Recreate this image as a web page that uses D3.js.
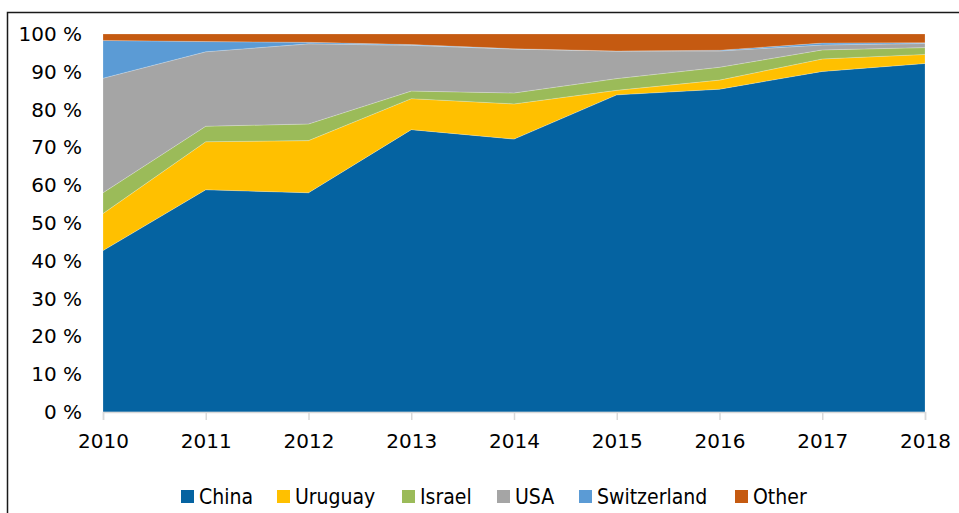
<!DOCTYPE html>
<html>
<head>
<meta charset="utf-8">
<script src="https://cdn.jsdelivr.net/npm/d3@7"></script>
<style>
  body { margin: 0; background: #fff; }
  svg { display: block; font-family: "DejaVu Sans", sans-serif; }
</style>
</head>
<body>
<div id="chart"></div>
<script>
const years = [2010, 2011, 2012, 2013, 2014, 2015, 2016, 2017, 2018];
const series = ["China", "Uruguay", "Israel", "USA", "Switzerland", "Other"];
const colors = ["#0563a1", "#ffc000", "#9bbb59", "#a5a5a5", "#5b9bd5", "#c55a11"];

// shares in %
const china = [42.7, 58.8, 58.0, 74.7, 72.2, 83.9, 85.4, 90.1, 92.2];
const uruguay = [9.8, 12.7, 13.8, 8.2, 9.3, 1.2, 2.4, 3.3, 2.4];
const israel = [5.5, 4.1, 4.4, 2.0, 2.9, 3.1, 3.4, 2.4, 1.8];
const usa = [30.3, 19.7, 21.2, 12.1, 11.6, 7.3, 4.3, 1.3, 1.1];
const switzerland = [10.0, 2.7, 0.4, 0.2, 0.1, 0.0, 0.2, 0.5, 0.2];
const other = [1.7, 2.0, 2.2, 2.8, 3.9, 4.5, 4.3, 2.4, 2.3];

const yTicks = [0, 10, 20, 30, 40, 50, 60, 70, 80, 90, 100];

const width = 959, height = 513;
const plotLeft = 103, plotRight = 925, plotTop = 34, plotBottom = 412;

const table = years.map((yr, i) => ({
    year: yr,
    China: china[i], Uruguay: uruguay[i], Israel: israel[i],
    USA: usa[i], Switzerland: switzerland[i], Other: other[i]
}));

const svg = d3.select("#chart").append("svg")
    .attr("width", width)
    .attr("height", height);

// outer frame
svg.append("rect")
    .attr("x", 7.5).attr("y", 12.5)
    .attr("width", 1000).attr("height", 600)
    .attr("fill", "none")
    .attr("stroke", "#1a1a1a")
    .attr("stroke-width", 1.5);

const x = d3.scaleLinear().domain([2010, 2018]).range([plotLeft, plotRight]);
const y = d3.scaleLinear().domain([0, 100]).range([plotBottom, plotTop]);

const stacked = d3.stack().keys(series)(table);

const area = d3.area()
    .x(d => x(d.data.year))
    .y0(d => y(d[0]))
    .y1(d => y(d[1]));

svg.append("g").selectAll("path")
    .data(stacked)
    .enter().append("path")
    .attr("d", area)
    .attr("fill", (d, i) => colors[i])
    .attr("stroke", "#ffffff")
    .attr("stroke-opacity", 0.35)
    .attr("stroke-width", 0.6);

// x axis
const xAxis = svg.append("g")
    .attr("transform", `translate(0,${plotBottom})`)
    .call(d3.axisBottom(x).tickValues(years).tickFormat(d3.format("d")).tickSize(8).tickPadding(14));
xAxis.select(".domain").attr("stroke", "#d9d9d9").attr("stroke-width", 1.5);
xAxis.selectAll(".tick line").attr("stroke", "#d9d9d9").attr("stroke-width", 1.5);
xAxis.selectAll("text")
    .attr("fill", "#000")
    .style("font-size", "20px")
    .style("font-family", "DejaVu Sans");

// y axis
const yAxis = svg.append("g")
    .attr("transform", `translate(${plotLeft},0)`)
    .call(d3.axisLeft(y).tickValues(yTicks).tickFormat(d => d + " %").tickSize(0).tickPadding(21));
yAxis.select(".domain").remove();
yAxis.selectAll("text")
    .attr("fill", "#000")
    .style("font-size", "20px")
    .style("font-family", "DejaVu Sans");

// legend
const legendX = [181, 277, 402, 497, 579, 735];
const legend = svg.append("g").selectAll("g")
    .data(series)
    .enter().append("g")
    .attr("transform", (d, i) => `translate(${legendX[i]},496.5)`);

legend.append("rect")
    .attr("x", 0).attr("y", -6.5)
    .attr("width", 13).attr("height", 13)
    .attr("fill", (d, i) => colors[i]);

legend.append("text")
    .attr("x", 18)
    .attr("dy", "0.36em")
    .style("font-size", "21px")
    .style("font-family", "'DejaVu Sans Condensed', 'DejaVu Sans'")
    .style("font-stretch", "condensed")
    .text(d => d);
</script>
</body>
</html>
